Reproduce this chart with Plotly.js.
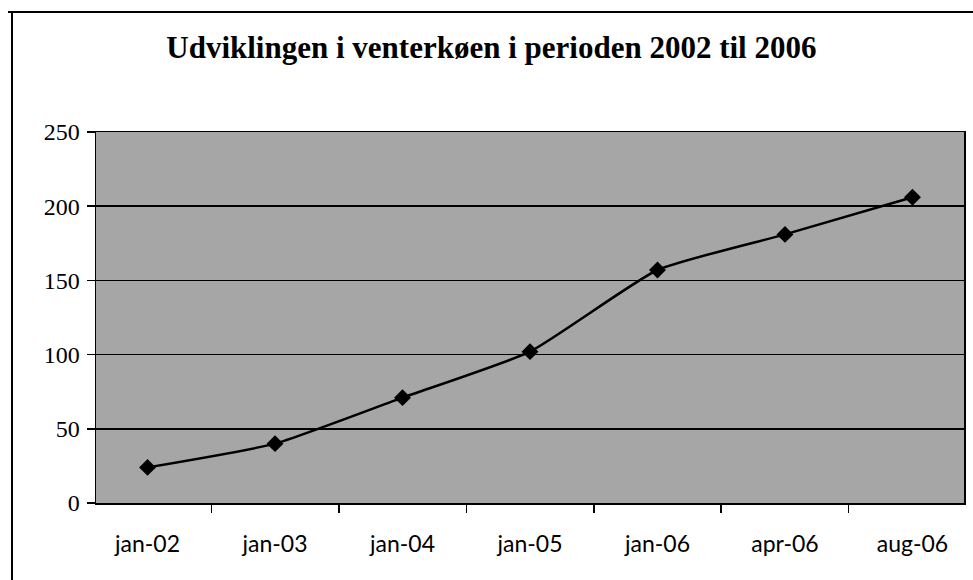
<!DOCTYPE html>
<html>
<head>
<meta charset="utf-8">
<script src="https://cdn.plot.ly/plotly-3.0.1.min.js"></script>
<style>html,body{margin:0;padding:0;background:#fff;}</style>
</head>
<body>
<div id="chart" style="width:973px;height:580px;"></div>
<script>
const categories = ["jan-02", "jan-03", "jan-04", "jan-05", "jan-06", "apr-06", "aug-06"];
const queueValues = [24, 40, 71, 102, 157, 181, 206];
const yTickValues = [0, 50, 100, 150, 200, 250];
const titleText = "Udviklingen i venterkøen i perioden 2002 til 2006";

const W = 973, H = 580;
const m = {l: 96, r: 9, t: 132, b: 77};
const pw = W - m.l - m.r, ph = H - m.t - m.b;
const px = v => (v - m.l) / pw;
const py = v => (H - m.b - v) / ph;

const trace = {
  x: categories,
  y: queueValues,
  type: "scatter",
  mode: "lines+markers",
  line: {color: "#000", width: 2.5, shape: "spline", smoothing: 0.5},
  marker: {symbol: "diamond", size: 13, color: "#000"},
  hoverinfo: "x+y"
};

const layout = {
  width: W, height: H,
  margin: m,
  paper_bgcolor: "#fff",
  plot_bgcolor: "#a6a6a6",
  showlegend: false,
  title: {
    text: "<b>" + titleText + "</b>",
    font: {family: "Liberation Serif, Times New Roman, serif", size: 31, color: "#000"},
    x: 0.505, xanchor: "center", y: 0.918, yanchor: "middle"
  },
  xaxis: {
    type: "category",
    tickson: "boundaries",
    ticks: "outside", ticklen: 8, tickwidth: 1.5, tickcolor: "#000",
    showline: true, linecolor: "#000", linewidth: 1.5, mirror: true,
    showgrid: false, zeroline: false,
    tickfont: {family: "Lato, Open Sans, sans-serif", size: 23, color: "#000"},
    ticklabelstandoff: 20
  },
  yaxis: {
    range: [0, 250],
    tickvals: yTickValues,
    ticks: "outside", ticklen: 8, tickwidth: 1.5, tickcolor: "#000",
    showline: true, linecolor: "#000", linewidth: 1.5, mirror: true,
    showgrid: true, gridcolor: "#000", gridwidth: 1.5,
    zeroline: false,
    tickfont: {family: "Liberation Serif, Times New Roman, serif", size: 24, color: "#000"},
    ticklabelstandoff: 2
  },
  shapes: [
    {type: "line", xref: "paper", yref: "paper", x0: px(8), x1: px(973), y0: py(12), y1: py(12),
     line: {color: "#000", width: 2}},
    {type: "line", xref: "paper", yref: "paper", x0: px(12), x1: px(12), y0: py(12), y1: py(580),
     line: {color: "#000", width: 2}}
  ]
};

Plotly.newPlot("chart", [trace], layout, {displayModeBar: false, staticPlot: true});
</script>
</body>
</html>
